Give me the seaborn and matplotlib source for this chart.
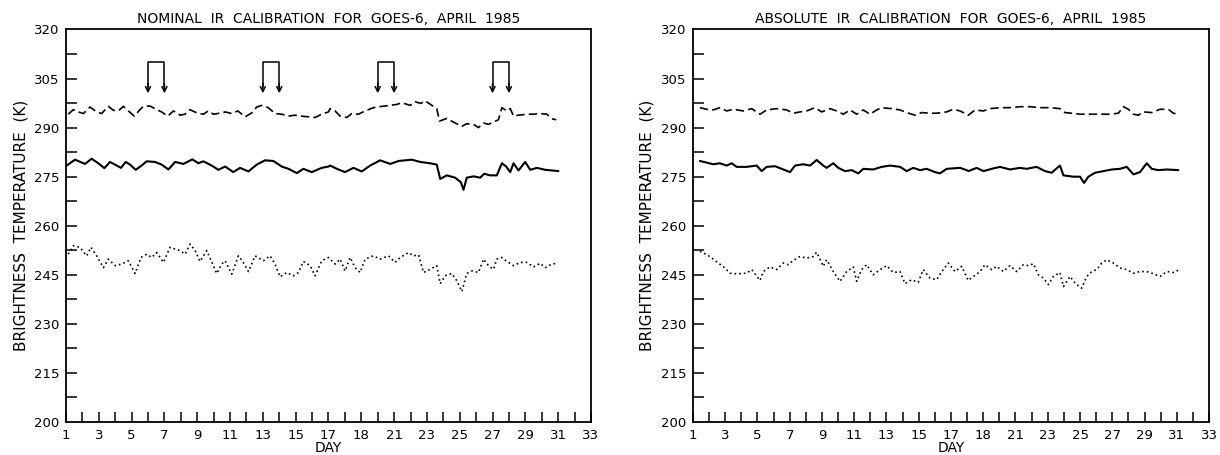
import numpy as np
import pandas as pd
import seaborn as sns
import matplotlib.pyplot as plt
from matplotlib.ticker import FixedLocator, FixedFormatter

# --- data (day of April 1985, brightness temperature K) ---
NOM_DASH_DAY = [1.14, 1.45, 1.75, 2.06, 2.46, 2.87, 3.17, 3.58, 3.89, 4.19, 4.5, 4.8, 5.17, 5.51, 5.71,
                6.12, 6.53, 6.83, 7.2, 7.55, 7.95, 8.26, 8.56, 8.97, 9.37, 9.68, 9.98, 10.49, 10.7, 11.1,
                11.47, 11.92, 12.32, 12.63, 12.93, 13.33, 13.74, 14.15, 14.56, 14.96, 15.37, 15.78, 16.18,
                16.59, 17.0, 17.1, 17.4, 17.71, 18.12, 18.42, 18.83, 19.23, 19.74, 20.25, 20.76, 21.17,
                21.47, 21.98, 22.28, 22.63, 22.89, 23.3, 23.6, 23.77, 24.21, 24.72, 25.13, 25.43, 25.84,
                26.14, 26.45, 26.75, 27.06, 27.36, 27.57, 27.87, 28.08, 28.28, 28.58, 29.09, 29.5, 29.9,
                30.31, 30.62, 30.88]
NOM_DASH_K = [294.1, 295.5, 294.8, 294.3, 296.3, 294.8, 294.3, 296.5, 295.3, 295.1, 296.5, 295.1, 293.5,
              295.5, 296.5, 296.6, 295.5, 294.8, 293.5, 295.1, 293.8, 294.1, 295.5, 294.5, 294.1, 295.1,
              294.1, 294.5, 294.8, 294.3, 295.1, 293.3, 294.5, 296.3, 296.8, 296.1, 294.3, 294.1, 293.5,
              293.8, 293.5, 293.3, 293.1, 294.1, 294.8, 295.8, 295.1, 293.5, 293.1, 294.3, 294.1, 295.1,
              296.1, 296.5, 296.8, 297.1, 297.6, 296.8, 297.9, 297.4, 298.2, 296.8, 295.8, 292.0, 292.8,
              291.4, 290.4, 291.2, 291.0, 290.0, 291.4, 291.0, 291.7, 292.4, 296.1, 295.1, 295.8, 293.5,
              293.8, 294.1, 294.1, 294.3, 294.1, 292.7, 292.4]

NOM_SOLID_DAY = [1.04, 1.55, 2.16, 2.56, 2.97, 3.34, 3.68, 4.09, 4.35, 4.64, 4.9, 5.25, 5.61, 5.92, 6.43,
                 6.83, 7.24, 7.65, 8.16, 8.7, 9.07, 9.37, 9.88, 10.29, 10.7, 11.2, 11.61, 12.12, 12.63,
                 13.13, 13.64, 14.15, 14.56, 15.07, 15.47, 15.98, 16.59, 17.0, 17.1, 17.51, 18.01, 18.52,
                 19.03, 19.54, 20.15, 20.76, 21.27, 22.08, 22.59, 23.2, 23.6, 23.81, 24.21, 24.72, 25.07,
                 25.23, 25.43, 25.84, 26.25, 26.49, 26.86, 27.26, 27.57, 27.83, 28.08, 28.28, 28.58, 28.99,
                 29.3, 29.7, 30.21, 30.62, 31.02]
NOM_SOLID_K = [278.4, 280.2, 278.9, 280.5, 279.1, 277.6, 279.5, 278.4, 277.7, 279.5, 278.7, 277.1, 278.4,
               279.7, 279.5, 278.7, 277.2, 279.5, 278.9, 280.3, 279.1, 279.7, 278.4, 277.1, 278.1, 276.4,
               277.7, 276.6, 278.7, 280.0, 279.8, 278.1, 277.4, 276.1, 277.4, 276.4, 277.7, 278.1, 278.4,
               277.4, 276.4, 277.7, 276.6, 278.4, 280.0, 278.9, 279.8, 280.2, 279.5, 279.1, 278.7, 274.3,
               275.4, 274.7, 273.3, 271.0, 274.7, 275.1, 274.7, 275.9, 275.4, 275.4, 279.1, 278.1, 276.4,
               279.1, 276.9, 279.5, 277.1, 277.7, 277.1, 276.9, 276.7]

NOM_DOT_DAY = [1.14, 1.45, 1.85, 2.26, 2.52, 2.87, 3.28, 3.58, 3.99, 4.39, 4.8, 5.21, 5.57, 5.92, 6.22,
               6.53, 6.94, 7.34, 7.95, 8.26, 8.56, 8.87, 9.17, 9.58, 10.19, 10.49, 10.7, 11.1, 11.51, 11.81,
               12.12, 12.53, 13.03, 13.44, 13.74, 14.05, 14.46, 14.86, 15.17, 15.47, 15.88, 16.18, 16.59,
               17.0, 17.1, 17.4, 17.71, 18.01, 18.32, 18.62, 18.93, 19.23, 19.74, 20.15, 20.66, 21.06,
               21.37, 21.88, 22.18, 22.49, 22.79, 23.2, 23.6, 23.81, 24.11, 24.52, 24.82, 25.13, 25.43,
               25.74, 26.14, 26.45, 26.75, 27.06, 27.26, 27.57, 27.87, 28.28, 28.69, 29.09, 29.5, 29.9,
               30.21, 30.62, 30.92]
NOM_DOT_K = [251.3, 253.9, 253.4, 250.8, 253.4, 250.8, 247.2, 249.8, 247.8, 248.3, 249.3, 245.4, 250.3,
             251.3, 250.3, 251.8, 248.8, 253.4, 252.4, 251.3, 254.4, 252.4, 249.1, 252.4, 245.4, 248.3,
             249.3, 245.2, 250.8, 248.8, 246.0, 250.8, 249.3, 250.8, 248.3, 244.4, 245.7, 244.7, 245.7,
             249.1, 247.8, 244.7, 249.3, 250.3, 249.8, 248.3, 249.8, 246.2, 250.3, 247.2, 245.7, 249.8,
             250.8, 249.8, 250.8, 248.8, 250.3, 251.8, 250.8, 251.1, 245.7, 246.7, 247.8, 242.3, 244.7,
             245.4, 243.2, 239.9, 245.4, 246.2, 245.7, 249.8, 247.8, 246.7, 249.8, 250.3, 249.1, 247.8,
             248.8, 248.8, 247.4, 248.5, 247.2, 248.3, 248.5]

ABS_DASH_DAY = [1.43, 1.85, 2.26, 2.67, 3.09, 3.5, 4.12, 4.64, 5.16, 5.57, 6.19, 6.81, 7.22, 7.64, 8.05,
                8.57, 8.98, 9.5, 9.91, 10.32, 10.74, 11.15, 11.56, 11.98, 12.39, 12.7, 13.32, 13.84, 14.25,
                14.77, 15.18, 15.7, 16.11, 16.73, 17.14, 17.56, 17.97, 18.08, 18.49, 19.01, 19.42, 20.04,
                20.66, 21.28, 21.9, 22.52, 23.14, 23.76, 24.07, 24.48, 25.0, 25.62, 26.24, 26.86, 27.38,
                27.69, 28.0, 28.31, 28.62, 28.93, 29.45, 29.96, 30.48, 30.79, 31.1]
ABS_DASH_K = [296.1, 295.6, 295.4, 296.1, 295.1, 295.6, 295.1, 295.8, 294.1, 295.4, 295.8, 295.4, 294.4,
              294.8, 295.1, 296.1, 294.8, 295.8, 295.1, 294.1, 295.4, 294.1, 295.4, 294.1, 295.4, 296.1,
              295.8, 295.4, 294.6, 293.8, 294.6, 294.4, 294.4, 294.8, 295.6, 295.1, 294.1, 293.8, 295.4,
              295.1, 295.8, 296.1, 296.1, 296.4, 296.4, 296.1, 296.1, 295.8, 294.6, 294.4, 294.1, 294.1,
              294.1, 294.1, 294.4, 296.4, 295.6, 294.1, 293.8, 294.8, 294.6, 295.6, 295.6, 294.4, 294.1]

ABS_SOLID_DAY = [1.43, 1.85, 2.26, 2.67, 3.09, 3.4, 3.71, 4.33, 4.95, 5.26, 5.57, 6.09, 6.5, 7.02, 7.33,
                 7.84, 8.26, 8.67, 9.08, 9.29, 9.7, 10.01, 10.43, 10.84, 11.25, 11.56, 12.18, 12.7, 13.22,
                 13.84, 14.25, 14.66, 15.08, 15.49, 16.01, 16.32, 16.73, 17.56, 17.97, 18.08, 18.59, 19.01,
                 19.52, 20.04, 20.66, 21.28, 21.69, 22.31, 22.83, 23.24, 23.66, 23.76, 23.97, 24.59, 25.0,
                 25.25, 25.52, 25.93, 26.45, 26.97, 27.48, 27.9, 28.31, 28.72, 29.14, 29.45, 29.86, 30.38,
                 31.1]
ABS_SOLID_K = [279.8, 279.3, 278.8, 279.1, 278.4, 279.1, 278.0, 278.0, 278.4, 276.7, 278.0, 278.2, 277.4,
               276.4, 278.4, 278.8, 278.4, 280.1, 278.4, 277.7, 279.1, 277.7, 276.7, 277.0, 276.0, 277.4,
               277.2, 278.0, 278.4, 278.0, 276.7, 277.7, 277.0, 277.4, 276.4, 276.0, 277.4, 277.7, 277.0,
               276.7, 277.7, 276.7, 277.4, 278.0, 277.2, 277.7, 277.4, 278.0, 276.7, 276.2, 278.0, 278.4,
               275.4, 275.0, 275.0, 273.1, 275.0, 276.2, 276.7, 277.2, 277.4, 278.0, 275.7, 276.4, 279.1,
               277.4, 277.0, 277.2, 277.0]

ABS_DOT_DAY = [1.43, 1.85, 2.26, 2.57, 2.98, 3.29, 3.71, 4.33, 4.64, 5.16, 5.36, 5.77, 6.19, 6.6, 6.91,
               7.22, 7.64, 8.05, 8.46, 8.67, 9.08, 9.29, 9.7, 10.12, 10.53, 10.94, 11.15, 11.46, 11.77,
               12.18, 12.6, 13.01, 13.42, 13.84, 14.15, 14.56, 14.97, 15.28, 15.7, 16.11, 16.52, 16.83,
               17.25, 17.66, 18.07, 18.39, 18.8, 19.11, 19.52, 19.83, 20.25, 20.66, 21.07, 21.49, 21.8,
               22.11, 22.42, 22.73, 23.04, 23.35, 23.76, 23.97, 24.38, 24.69, 25.1, 25.42, 25.73, 26.04,
               26.35, 26.66, 27.07, 27.48, 27.9, 28.31, 28.72, 29.14, 29.45, 29.96, 30.38, 30.79, 31.1]
ABS_DOT_K = [252.2, 251.2, 249.8, 248.6, 247.1, 245.5, 245.3, 245.5, 246.6, 243.3, 246.0, 247.4, 246.6,
             248.6, 248.1, 249.4, 250.6, 250.1, 250.6, 251.9, 247.6, 249.6, 246.0, 243.0, 246.0, 247.4,
             243.0, 246.6, 248.1, 245.0, 246.6, 247.8, 245.7, 246.0, 242.3, 243.5, 242.7, 246.6, 244.0,
             243.5, 246.6, 248.6, 246.0, 247.6, 243.3, 244.5, 246.0, 248.1, 246.6, 247.6, 246.0, 247.8,
             246.0, 248.1, 247.8, 248.4, 245.0, 244.0, 242.0, 244.5, 245.7, 241.4, 244.5, 242.5, 240.9,
             244.5, 246.0, 246.6, 248.6, 249.6, 248.6, 247.1, 246.6, 245.5, 246.0, 246.0, 245.5, 244.5,
             246.0, 245.7, 246.4]

# weekend marker pairs on the nominal panel (days), bracket top and arrow tip (K)
WEEKEND_PAIRS = [(6, 7), (13, 14), (20, 21), (27, 28)]
BRACKET_TOP = 310
ARROW_TIP = 300.5

# labelled odd days (the original prints "18" where 19 belongs), a tick mark on every day
X_LABEL_POS = list(range(1, 34, 2))
X_TICK_LABELS = ['1', '3', '5', '7', '9', '11', '13', '15', '17', '18', '21', '23', '25', '27', '29',
                 '31', '33']
X_MARKS = list(range(1, 34))
Y_LABEL_POS = [200, 215, 230, 245, 260, 275, 290, 305, 320]
Y_TICK_LABELS = ['200', '215', '230', '245', '260', '275', '290', '305', '320']
Y_MARKS = [207.5, 215, 222.5, 230, 237.5, 245, 252.5, 260, 267.5, 275, 282.5, 290, 297.5, 305, 312.5]

TITLES = ['NOMINAL  IR  CALIBRATION  FOR  GOES-6,  APRIL  1985',
          'ABSOLUTE  IR  CALIBRATION  FOR  GOES-6,  APRIL  1985']


def draw_panel(ax, title, dash, solid, dot):
    dash_df = pd.DataFrame({'day': dash[0], 'temp': dash[1]})
    solid_df = pd.DataFrame({'day': solid[0], 'temp': solid[1]})
    dot_df = pd.DataFrame({'day': dot[0], 'temp': dot[1]})

    sns.lineplot(data=dash_df, x='day', y='temp', ax=ax, color='black', linewidth=1.2,
                 linestyle=(0, (5, 2.5)), estimator=None, sort=False)
    sns.lineplot(data=solid_df, x='day', y='temp', ax=ax, color='black', linewidth=1.5,
                 estimator=None, sort=False)
    sns.lineplot(data=dot_df, x='day', y='temp', ax=ax, color='black', linewidth=1.2,
                 linestyle=(0, (1, 1.8)), estimator=None, sort=False)

    ax.set_xlim(1, 33)
    ax.set_ylim(200, 320)
    ax.xaxis.set_major_locator(FixedLocator(X_LABEL_POS))
    ax.xaxis.set_major_formatter(FixedFormatter(X_TICK_LABELS))
    ax.yaxis.set_major_locator(FixedLocator(Y_LABEL_POS))
    ax.yaxis.set_major_formatter(FixedFormatter(Y_TICK_LABELS))
    ax.minorticks_off()
    ax.tick_params(axis='both', which='major', length=0, pad=5, labelsize=9.5,
                   labelcolor='black')

    # inward tick marks drawn as short segments on the bottom and left edges
    w_px = ax.get_position().width * fig.get_figwidth() * fig.dpi
    h_px = ax.get_position().height * fig.get_figheight() * fig.dpi
    ax.vlines(X_MARKS, 0, 10 / h_px, transform=ax.get_xaxis_transform(), colors='black',
              linewidth=1.1, clip_on=False)
    ax.hlines(Y_MARKS, 0, 11 / w_px, transform=ax.get_yaxis_transform(), colors='black',
              linewidth=1.1, clip_on=False)

    for s in ax.spines.values():
        s.set_visible(True)
        s.set_linewidth(1.3)
        s.set_color('black')

    ax.set_title(title, fontsize=10, pad=5, color='black')
    ax.set_xlabel('DAY', fontsize=10, labelpad=-1, color='black')
    ax.set_ylabel('BRIGHTNESS  TEMPERATURE  (K)', fontsize=11, labelpad=4, color='black')


sns.set_theme(style="ticks")
plt.rcParams['font.family'] = ['DejaVu Sans']

fig = plt.figure(figsize=(12.2, 4.55), dpi=100)
ax1 = fig.add_axes([0.0541, 0.0725, 0.4303, 0.8627])
ax2 = fig.add_axes([0.5680, 0.0725, 0.4230, 0.8627])

draw_panel(ax1, TITLES[0], (NOM_DASH_DAY, NOM_DASH_K), (NOM_SOLID_DAY, NOM_SOLID_K),
           (NOM_DOT_DAY, NOM_DOT_K))
draw_panel(ax2, TITLES[1], (ABS_DASH_DAY, ABS_DASH_K), (ABS_SOLID_DAY, ABS_SOLID_K),
           (ABS_DOT_DAY, ABS_DOT_K))

# weekend brackets with downward arrows
for d0, d1 in WEEKEND_PAIRS:
    ax1.plot([d0, d0, d1, d1], [ARROW_TIP + 2, BRACKET_TOP, BRACKET_TOP, ARROW_TIP + 2],
             color='black', linewidth=1.1)
    for d in (d0, d1):
        ax1.annotate('', xy=(d, ARROW_TIP), xytext=(d, ARROW_TIP + 3),
                     arrowprops=dict(arrowstyle='->', color='black', lw=1.1, mutation_scale=9,
                                     shrinkA=0, shrinkB=0))

fig.savefig('out.png', dpi=100)
